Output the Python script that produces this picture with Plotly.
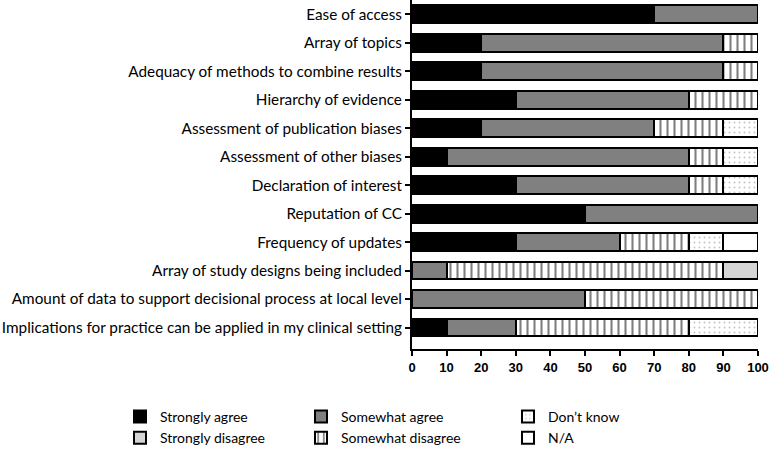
import plotly.graph_objects as go

categories = [
    "Ease of access",
    "Array of topics",
    "Adequacy of methods to combine results",
    "Hierarchy of evidence",
    "Assessment of publication biases",
    "Assessment of other biases",
    "Declaration of interest",
    "Reputation of CC",
    "Frequency of updates",
    "Array of study designs being included",
    "Amount of data to support decisional process at local level",
    "Implications for practice can be applied in my clinical setting",
]
strongly_agree = [70, 20, 20, 30, 20, 10, 30, 50, 30, 0, 0, 10]
somewhat_agree = [30, 70, 70, 50, 50, 70, 50, 50, 30, 10, 50, 20]
somewhat_disagree = [0, 10, 10, 20, 20, 10, 10, 0, 20, 80, 50, 50]
dont_know = [0, 0, 0, 0, 10, 10, 10, 0, 10, 0, 0, 20]
not_applicable = [0, 0, 0, 0, 0, 0, 0, 0, 10, 0, 0, 0]
strongly_disagree = [0, 0, 0, 0, 0, 0, 0, 0, 0, 10, 0, 0]
x_ticks = [0, 10, 20, 30, 40, 50, 60, 70, 80, 90, 100]

W, H = 779, 462


def clean(vals):
    return [v if v else None for v in vals]


line = dict(color="black", width=2)
series = [
    ("Strongly agree", strongly_agree, dict(color="black", line=line), "legend", 1),
    ("Somewhat agree", somewhat_agree, dict(color="#808080", line=line), "legend2", 1),
    ("Somewhat disagree", somewhat_disagree,
     dict(color="white", line=line,
          pattern=dict(shape="|", fgcolor="black", bgcolor="white", size=7, solidity=0.3)),
     "legend2", 2),
    ("Don\u2019t know", dont_know,
     dict(color="white", line=line,
          pattern=dict(shape=".", fgcolor="#8a8a8a", bgcolor="white", size=5, solidity=0.12)),
     "legend3", 1),
    ("N/A", not_applicable, dict(color="white", line=line), "legend3", 2),
    ("Strongly disagree", strongly_disagree, dict(color="#d4d4d4", line=line), "legend", 2),
]

fig = go.Figure()
for name, vals, marker, leg, rank in series:
    fig.add_trace(go.Bar(
        y=categories, x=clean(vals), name=name, orientation="h",
        marker=marker, legend=leg, legendrank=rank,
    ))

legend_common = dict(
    xref="container", yref="container", yanchor="top", xanchor="left",
    font=dict(family="Lato, Noto Sans, sans-serif", size=14, color="black"),
    bgcolor="rgba(0,0,0,0)", tracegroupgap=0, itemclick=False,
    traceorder="normal",
)
ytop = 1 - 401 / H
fig.update_layout(
    width=W, height=H,
    margin=dict(l=412, r=21, t=0, b=113, autoexpand=False),
    barmode="stack",
    bargap=0.38,
    plot_bgcolor="white",
    paper_bgcolor="white",
    showlegend=True,
    legend=dict(x=120 / W, y=ytop, **legend_common),
    legend2=dict(x=301 / W, y=ytop, **legend_common),
    legend3=dict(x=508 / W, y=ytop, **legend_common),
    xaxis=dict(
        range=[0, 100], tickvals=x_ticks, showgrid=False, zeroline=False,
        showline=True, linecolor="black", linewidth=2,
        ticks="outside", ticklen=5, tickwidth=2, tickcolor="black",
        tickfont=dict(family="Liberation Sans, Arial, sans-serif", size=13, color="black", weight="bold"),
    ),
    yaxis=dict(
        categoryorder="array", categoryarray=categories,
        range=[11.75, -0.5], showgrid=False, zeroline=False,
        showline=True, linecolor="black", linewidth=2,
        ticks="outside", ticklen=5, tickwidth=2, tickcolor="black",
        tickfont=dict(family="Lato, Noto Sans, sans-serif", size=15.3, color="black"),
    ),
)

fig.write_html(
    "out.html",
    config={"displayModeBar": False},
    post_script="document.body.style.margin='0';",
)
